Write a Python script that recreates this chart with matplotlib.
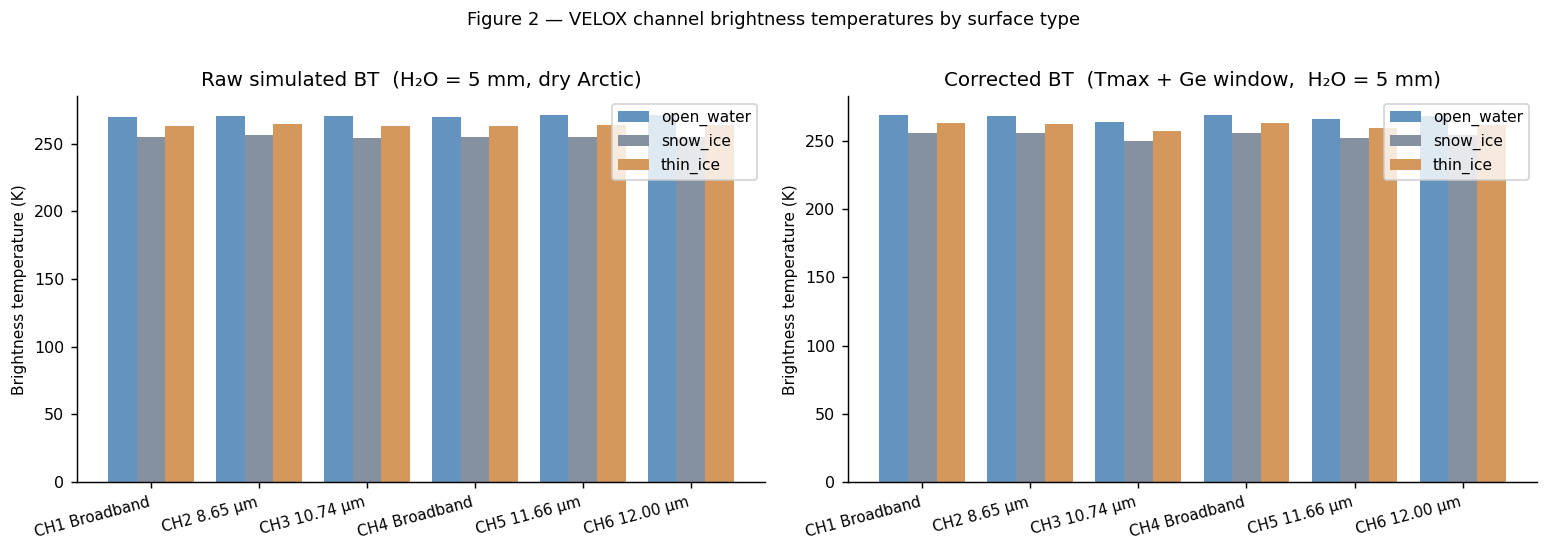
import matplotlib.pyplot as plt
import numpy as np

channels = ["CH1 Broadband", "CH2 8.65 µm", "CH3 10.74 µm",
            "CH4 Broadband", "CH5 11.66 µm", "CH6 12.00 µm"]
surfaces = ["open_water", "snow_ice", "thin_ice"]
colors = ["#6394bf", "#8591a0", "#d4975c"]

# raw simulated BT (K)
raw_water = [269.9, 270.6, 270.6, 270.0, 271.4, 271.2]
raw_snow = [255.2, 256.6, 254.4, 255.2, 255.2, 255.0]
raw_thin = [263.3, 264.7, 263.3, 263.3, 264.0, 264.0]

# corrected BT (K)
cor_water = [269.0, 268.3, 263.9, 269.0, 266.0, 268.3]
cor_snow = [255.8, 255.8, 250.0, 255.8, 252.2, 254.5]
cor_thin = [263.2, 262.4, 257.3, 263.2, 259.5, 261.7]

titles = ["Raw simulated BT  (H₂O = 5 mm, dry Arctic)",
          "Corrected BT  (Tmax + Ge window,  H₂O = 5 mm)"]

fig = plt.figure(figsize=(1548 / 130, 551 / 130), dpi=130)
ax1 = fig.add_axes([0.0497, 0.125, 0.4444, 0.7])
ax2 = fig.add_axes([0.5478, 0.125, 0.445, 0.7])

x = np.arange(len(channels))
w = 0.265
for ax, data, title in [(ax1, [raw_water, raw_snow, raw_thin], titles[0]),
                        (ax2, [cor_water, cor_snow, cor_thin], titles[1])]:
    for i, (vals, name) in enumerate(zip(data, surfaces)):
        ax.bar(x + (i - 1) * w, vals, w, color=colors[i], label=name)
    ax.set_xticks(x)
    ax.set_xticklabels(channels, rotation=15, ha="right", fontsize=8.4)
    ax.tick_params(axis="y", labelsize=8.8)
    ax.set_ylabel("Brightness temperature (K)", fontsize=8.5)
    ax.set_title(title, fontsize=11)
    ax.spines["top"].set_visible(False)
    ax.spines["right"].set_visible(False)
    ax.legend(loc="upper right", fontsize=8.5)

fig.suptitle("Figure 2 — VELOX channel brightness temperatures by surface type",
             fontsize=10, y=0.98)

fig.savefig("out.png", dpi=130)
